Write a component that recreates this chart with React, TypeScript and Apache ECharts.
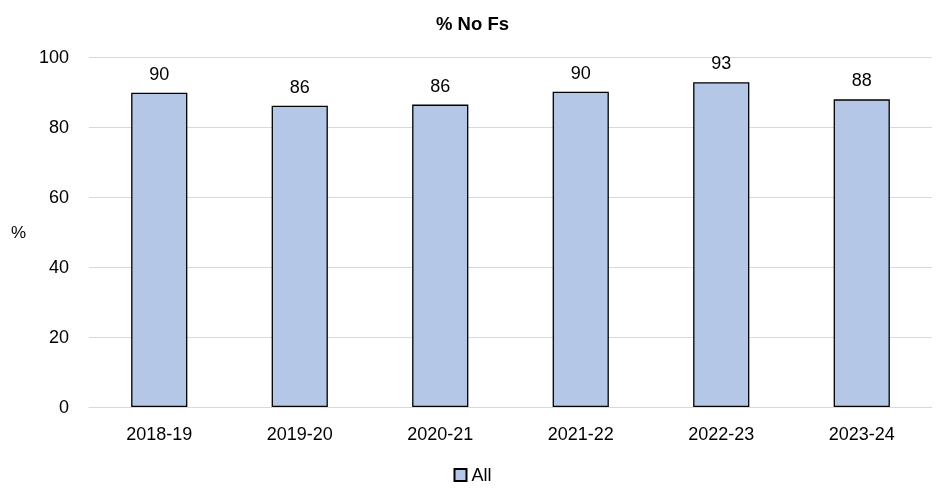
import React, { useEffect, useRef } from "react";
import * as echarts from "echarts";

const categories = ["2018-19", "2019-20", "2020-21", "2021-22", "2022-23", "2023-24"];
const values = [89.8, 86.1, 86.4, 90.1, 92.8, 87.9];
const seriesName = "All";
const titleText = "% No Fs";

export default function App() {
  const ref = useRef<HTMLDivElement>(null);
  useEffect(() => {
    if (!ref.current) return;
    const chart = echarts.init(ref.current, null, { renderer: "svg" });
    const font = "'Liberation Sans', Arial, sans-serif";
    chart.setOption({
      animation: false,
      textStyle: { fontFamily: font },
      title: {
        text: titleText,
        left: "center",
        top: 9,
        textStyle: { fontSize: 18.5, fontWeight: "bold", color: "#000", fontFamily: font },
      },
      legend: {
        bottom: 1,
        left: "center",
        data: [seriesName],
        icon: "rect",
        itemWidth: 12,
        itemHeight: 12,
        itemGap: 4,
        textStyle: { fontSize: 18, color: "#000", fontFamily: font },
      },
      grid: { left: 89, right: 13, top: 57, bottom: 83 },
      xAxis: {
        type: "category",
        data: categories,
        axisTick: { show: false },
        axisLine: { lineStyle: { color: "#d9d9d9", width: 1 } },
        axisLabel: { fontSize: 18, color: "#000", margin: 18, fontFamily: font },
      },
      yAxis: {
        type: "value",
        min: 0,
        max: 100,
        interval: 20,
        name: "%",
        nameLocation: "middle",
        nameRotate: 0,
        nameGap: 63,
        nameTextStyle: { fontSize: 17, color: "#000", fontFamily: font },
        axisLabel: { fontSize: 18, color: "#000", margin: 20, fontFamily: font },
        splitLine: { lineStyle: { color: "#d9d9d9", width: 1 } },
        axisLine: { show: false },
        axisTick: { show: false },
      },
      series: [
        {
          name: seriesName,
          type: "bar",
          data: values,
          barWidth: "40%",
          itemStyle: { color: "#B4C7E7", borderColor: "#000", borderWidth: 1.3 },
          label: {
            show: true,
            position: "top",
            distance: 10,
            fontSize: 18,
            color: "#000",
            fontFamily: font,
            formatter: (p: any) => String(Math.round(p.value)),
          },
        },
      ],
    });
    return () => chart.dispose();
  }, []);
  return (
    <div
      ref={ref}
      style={{ position: "fixed", left: 0, top: 0, width: 945, height: 490 }}
    />
  );
}
